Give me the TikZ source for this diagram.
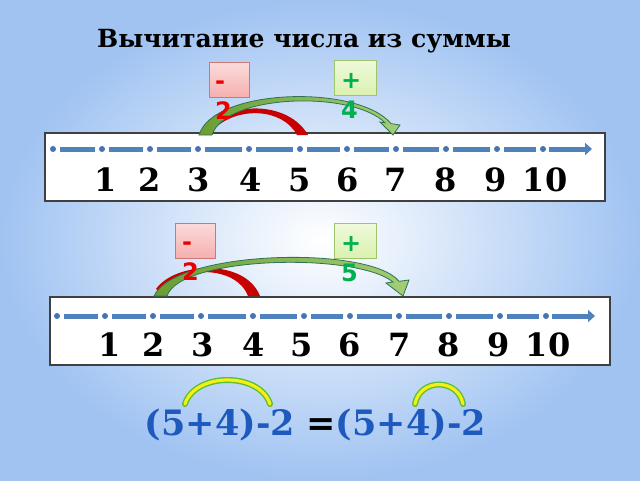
\documentclass[tikz,border=0pt]{standalone}
\usepackage{fontspec}
\setmainfont{DejaVu Serif}
\newfontfamily\labelfont{DejaVu Sans}
\usetikzlibrary{arrows.meta, positioning}

\definecolor{bgblue}{RGB}{160,195,242}
\definecolor{lineblue}{RGB}{79,129,189}
\definecolor{dotblue}{RGB}{70,115,178}
\definecolor{minusred}{RGB}{235,0,0}
\definecolor{plusgreen}{RGB}{0,176,80}
\definecolor{arcred}{RGB}{200,0,0}
\definecolor{arcgreen}{RGB}{125,185,60}
\definecolor{arcedge}{RGB}{45,115,85}
\definecolor{formblue}{RGB}{30,90,190}
\definecolor{pinkfill}{RGB}{246,175,175}
\definecolor{pinkedge}{RGB}{205,120,120}
\definecolor{limefill}{RGB}{218,242,175}
\definecolor{limeedge}{RGB}{160,195,110}
\definecolor{arcyellow}{RGB}{245,240,20}
\definecolor{arcrim}{RGB}{90,190,60}

\tikzset{
  linebox/.style={draw=black!75, line width=1.3pt, fill=white,
    minimum width=560pt, minimum height=68pt, inner sep=0pt},
  dot/.style={circle, fill=dotblue, inner sep=0pt, minimum size=6pt},
  seg/.style={draw=lineblue, line width=5pt, shorten <=4pt, shorten >=4pt},
  endarrow/.style={draw=lineblue, line width=5pt, shorten <=3pt,
    -{Triangle[length=7pt,width=12pt]}},
  num/.style={font=\bfseries\fontsize{32}{32}\selectfont, inner sep=0pt},
  minusbox/.style={draw=pinkedge, line width=1pt, top color=pinkfill!45,
    bottom color=pinkfill, minimum width=40pt, minimum height=35pt},
  plusbox/.style={draw=limeedge, line width=1pt, top color=limefill!45,
    bottom color=limefill, minimum width=42pt, minimum height=35pt},
  boxlbl/.style={font=\labelfont\bfseries\fontsize{24}{30}\selectfont,
    align=left, anchor=north west, inner sep=0pt},
  redarc/.style={fill=arcred},
  greenarc/.style={draw=arcedge, line width=0.8pt, left color=arcgreen!85!black,
    right color=arcgreen!70!white},
  yellowarc/.style={line cap=round},
  formula/.style={font=\bfseries\fontsize{35}{35}\selectfont, text=formblue,
    anchor=base, inner sep=0pt}
}

\begin{document}
\begin{tikzpicture}[x=1pt, y=-1pt]

% background
\shade[inner color=white, outer color=bgblue] (0,0) rectangle (640,480);
\useasboundingbox (0,0) rectangle (640,480);

\node[font=\bfseries\fontsize{25}{25}\selectfont] (title) at (304,41)
  {Вычитание числа из суммы};

% first number line
\node[linebox] (box1) at (325,167) {};
\foreach \x [count=\i] in {53,102,150,198,249,300,347,396,446,497,543}
  \node[dot] (a\i) at (\x,149) {};
\foreach \i in {1,...,10} {
  \pgfmathtruncatemacro\j{\i+1}
  \draw[seg] (a\i) -- (a\j);
}
\coordinate (end1) at (592,149);
\draw[endarrow] (a11) -- (end1);
\foreach \x/\n in {106/1,150/2,199/3,251/4,300/5,348/6,396/7,446/8,496/9,545/10}
  \node[num] (u\n) at (\x,180) {\n};

% jumps on the first line
\fill[redarc] (211,127) .. controls (228,102) and (288,100) .. (308,135)
  -- (297,135) .. controls (282,107) and (236,107) .. (214,129) -- cycle;
\path[greenarc] (199,135) .. controls (213,88) and (358,84) .. (391,123.6)
  -- (400,125) -- (393,135) -- (380,122) -- (385,122.8)
  .. controls (352,90) and (225,94) .. (212,135) -- cycle;

\node[minusbox] (m1) at (229,80) {};
\node[plusbox] (p1) at (355,78) {};
\node[boxlbl, text=minusred] (m1t) at (215,81) {-\\2};
\node[boxlbl, text=plusgreen] (p1t) at (341,73) {+\\4};

% second number line
\node[linebox] (box2) at (330,331) {};
\foreach \x [count=\i] in {57,105,153,201,253,304,350,399,449,500,546}
  \node[dot] (b\i) at (\x,316) {};
\foreach \i in {1,...,10} {
  \pgfmathtruncatemacro\j{\i+1}
  \draw[seg] (b\i) -- (b\j);
}
\coordinate (end2) at (595,316);
\draw[endarrow] (b11) -- (end2);
\foreach \x/\n in {110/1,154/2,203/3,254/4,302/5,350/6,400/7,449/8,499/9,548/10}
  \node[num] (l\n) at (\x,345) {\n};

% jumps on the second line
\fill[redarc] (156,289) .. controls (175,262) and (245,258) .. (260,296)
  -- (248,296) .. controls (236,265) and (180,265) .. (159,291) -- cycle;
\path[greenarc] (154,296) .. controls (175,250) and (370,245) .. (399,281.3)
  -- (409,280) -- (403,296) -- (386,283) -- (393,282)
  .. controls (356,252) and (180,256) .. (167,296) -- cycle;

\node[minusbox] (m2) at (195,240.5) {};
\node[plusbox] (p2) at (355,240.5) {};
\node[boxlbl, text=minusred] (m2t) at (182,241.5) {-\\2};
\node[boxlbl, text=plusgreen] (p2t) at (341,236) {+\\5};

% the equality
\node[formula] (f1) at (220,435) {(5+4)-2};
\node[formula] (f2) at (411,435) {(5+4)-2};
\node[font=\labelfont\bfseries\fontsize{35}{35}\selectfont, anchor=base,
  inner sep=0pt] (eq) at (321,435) {=};

\draw[yellowarc, draw=arcrim, line width=6pt]
  (185,404) .. controls (195,372) and (260,372) .. (270,404);
\draw[yellowarc, draw=arcyellow, line width=3.2pt]
  (185,404) .. controls (195,372) and (260,372) .. (270,404);
\draw[yellowarc, draw=arcrim, line width=6pt]
  (415,404) .. controls (420,378) and (458,378) .. (463,404);
\draw[yellowarc, draw=arcyellow, line width=3.2pt]
  (415,404) .. controls (420,378) and (458,378) .. (463,404);

\end{tikzpicture}
\end{document}
